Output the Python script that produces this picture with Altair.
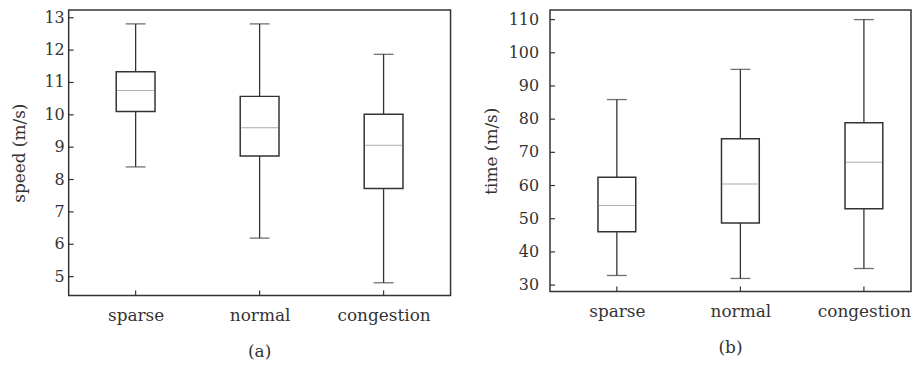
import altair as alt
import pandas as pd

categories = ["sparse", "normal", "congestion"]

speed_low = [8.39, 6.19, 4.81]
speed_q1 = [10.10, 8.73, 7.72]
speed_median = [10.75, 9.60, 9.06]
speed_q3 = [11.33, 10.57, 10.02]
speed_high = [12.81, 12.81, 11.87]
speed_ticks = [5, 6, 7, 8, 9, 10, 11, 12, 13]

time_low = [32.9, 32.0, 35.0]
time_q1 = [46.1, 48.7, 53.0]
time_median = [54.0, 60.5, 67.0]
time_q3 = [62.5, 74.1, 78.9]
time_high = [85.9, 95.0, 110.0]
time_ticks = [30, 40, 50, 60, 70, 80, 90, 100, 110]

FONT = "DejaVu Serif"
INK = "#333333"
FS = 17

cat_expr = "[" + ",".join("'%s'" % c for c in categories) + "][round(datum.value)]"


def panel(low, q1, med, q3, high, ticks, ydomain, xdomain, ytitle, ptitle, W, H,
          box_w, label_pad, title_pad):
    df = pd.DataFrame({"cat": categories, "pos": list(range(len(categories))),
                       "low": low, "q1": q1, "med": med, "q3": q3, "high": high})
    tdf = pd.DataFrame({"v": ticks})
    xs = alt.Scale(domain=xdomain, nice=False, zero=False)
    ys = alt.Scale(domain=ydomain, nice=False, zero=False)
    xax = alt.Axis(title=None, values=list(range(len(categories))), labelExpr=cat_expr,
                   ticks=False, domain=False, grid=False, labelPadding=12,
                   labelFont=FONT, labelFontSize=FS, labelColor=INK, labelAngle=0,
                   labelOverlap=False, labelFlush=False)
    yax = alt.Axis(title=ytitle, labels=False, ticks=False, domain=False, grid=False,
                   titleFont=FONT, titleFontSize=FS, titleFontWeight="normal",
                   titleColor=INK, titlePadding=title_pad)
    X = alt.X("pos:Q", scale=xs, axis=xax)
    Xn = alt.X("pos:Q", scale=xs)
    base = alt.Chart(df)
    whisk = base.mark_rule(color=INK, strokeWidth=1.3).encode(
        x=X, y=alt.Y("low:Q", scale=ys, axis=yax), y2="high:Q")
    box = base.mark_bar(size=box_w, fill="white", stroke=INK, strokeWidth=1.5,
                        orient="vertical").encode(
        x=Xn, y=alt.Y("q1:Q", scale=ys), y2="q3:Q")
    med = base.mark_tick(size=box_w - 2, thickness=1, color="#8a8a8a",
                         orient="horizontal").encode(
        x=Xn, y=alt.Y("med:Q", scale=ys))
    caplo = base.mark_tick(size=20, thickness=1.3, color=INK,
                           orient="horizontal").encode(
        x=Xn, y=alt.Y("low:Q", scale=ys))
    caphi = base.mark_tick(size=20, thickness=1.3, color=INK,
                           orient="horizontal").encode(
        x=Xn, y=alt.Y("high:Q", scale=ys))
    ytick = alt.Chart(tdf).mark_rule(color=INK, strokeWidth=1.2).encode(
        x=alt.value(0), x2=alt.value(5), y=alt.Y("v:Q", scale=ys))
    ylab = alt.Chart(tdf).mark_text(align="right", baseline="middle", font=FONT,
                                    fontSize=16, color=INK).encode(
        x=alt.value(-label_pad), y=alt.Y("v:Q", scale=ys), text="v:Q")
    xtick = alt.Chart(df).mark_rule(color=INK, strokeWidth=1.2).encode(
        x=Xn, y=alt.value(H), y2=alt.value(H - 5))
    return alt.layer(whisk, box, med, caplo, caphi, ytick, ylab, xtick).properties(
        width=W, height=H,
        title=alt.TitleParams(ptitle, orient="bottom", anchor="middle", offset=21,
                              font=FONT, fontSize=FS, fontWeight="normal", color=INK))


a = panel(speed_low, speed_q1, speed_median, speed_q3, speed_high, speed_ticks,
          [4.42, 13.24], [-0.5, 2.5], "speed (m/s)", "(a)", 384, 287, 39, 4, 40)
b = panel(time_low, time_q1, time_median, time_q3, time_high, time_ticks,
          [28.1, 112.9], [-0.501, 2.341], "time (m/s)", "(b)", 363, 283, 38, 11, 50)

chart = alt.hconcat(a, b, spacing=30).resolve_scale(x="independent", y="independent") \
    .configure(background="white",
               padding={"left": 2, "top": 0, "right": 0, "bottom": 0}) \
    .configure_axis(labelOverlap=False) \
    .configure_view(stroke=INK, strokeWidth=1.5)

chart.save("out.html", embed_options={"renderer": "svg", "actions": False})
